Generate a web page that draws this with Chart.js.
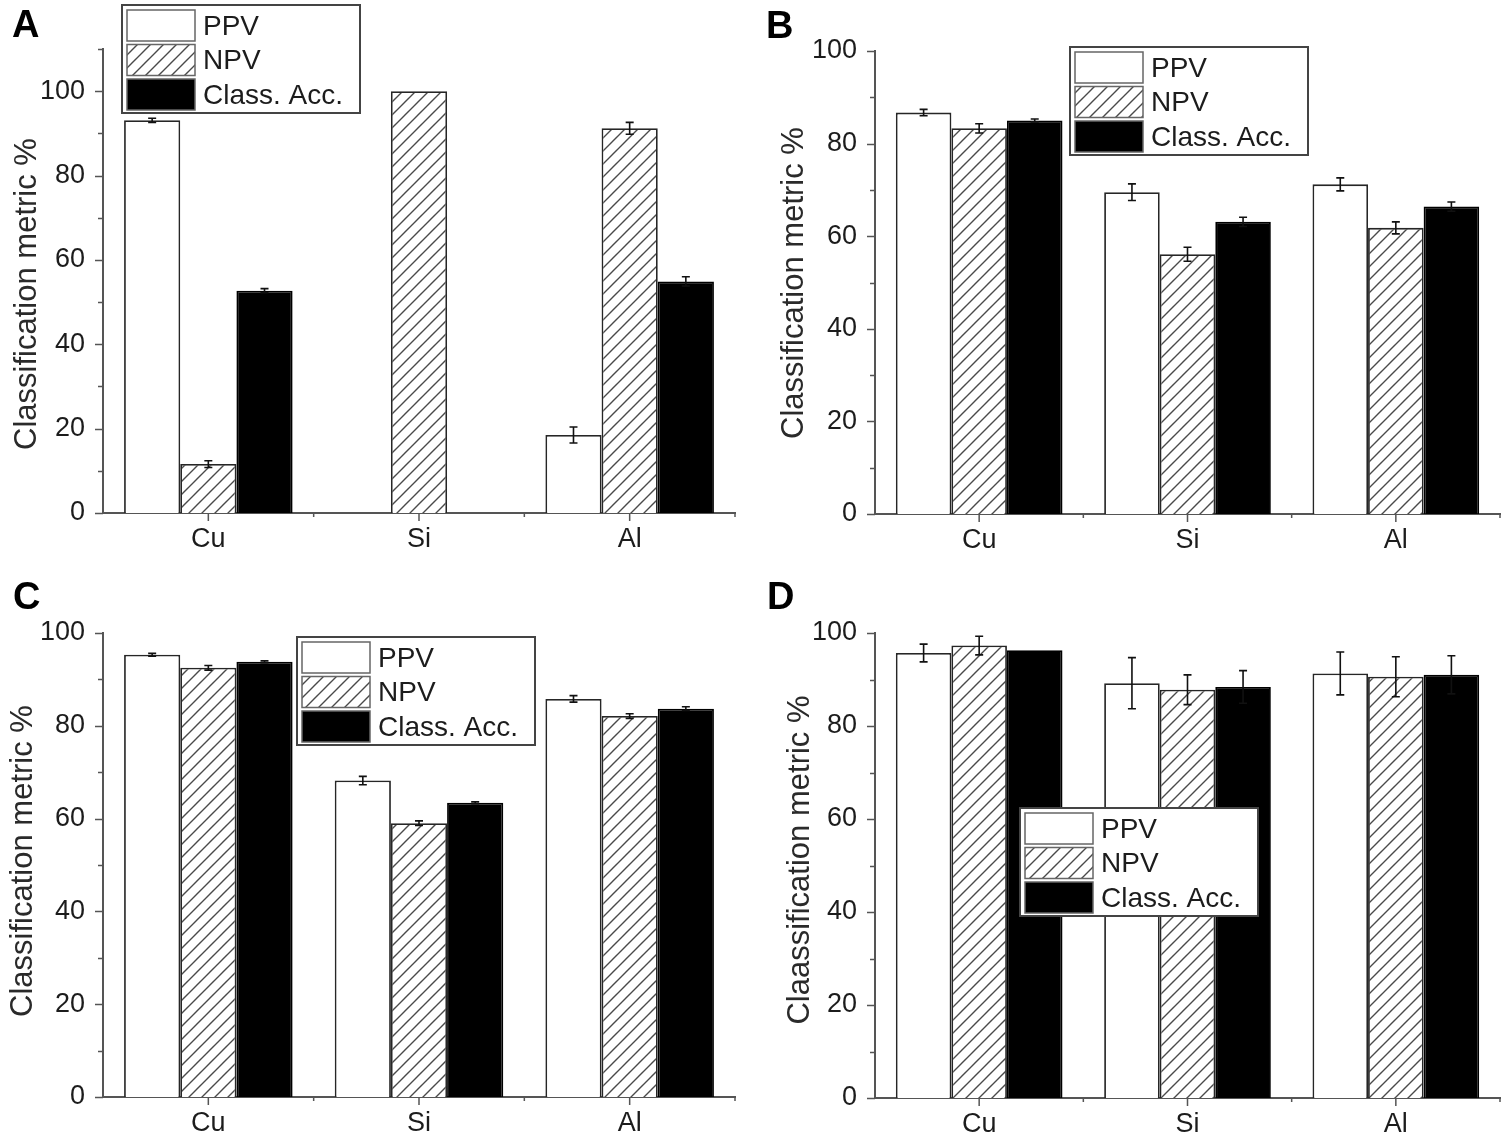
<!DOCTYPE html>
<html>
<head>
<meta charset="utf-8">
<script src="https://cdn.jsdelivr.net/npm/chart.js@4.4.1/dist/chart.umd.min.js"></script>
<style>
  body { margin: 0; background: #fff; }
  #wrap { position: relative; width: 1505px; height: 1142px; overflow: hidden; }
  canvas { position: absolute; }
  .tag { position: absolute; font: bold 38px "Liberation Sans", Arial, sans-serif; line-height: 38px; color: #000; }
</style>
</head>
<body>
<div id="wrap">
  <canvas id="chartA" width="752" height="571" style="left:0;top:0"></canvas>
  <canvas id="chartB" width="753" height="571" style="left:752px;top:0"></canvas>
  <canvas id="chartC" width="752" height="571" style="left:0;top:571px"></canvas>
  <canvas id="chartD" width="753" height="571" style="left:752px;top:571px"></canvas>
  <div class="tag" style="left:12px;top:5px">A</div>
  <div class="tag" style="left:766px;top:6px">B</div>
  <div class="tag" style="left:13px;top:577px">C</div>
  <div class="tag" style="left:767px;top:577px">D</div>
</div>
<script>
// categories and series
var categories = ["Cu", "Si", "Al"];
var seriesNames = ["PPV", "NPV", "Class. Acc."];
var yTickLabels = [0, 20, 40, 60, 80, 100];

// panel A
var ppvA = [93.1, null, 18.5];
var npvA = [11.6, 100, 91.2];
var accA = [52.7, null, 54.9];
var ppvErrA = [0.5, null, 1.9];
var npvErrA = [0.8, 0, 1.4];
var accErrA = [0.5, null, 1.1];

// panel B
var ppvB = [86.7, 69.5, 71.2];
var npvB = [83.3, 56.1, 61.8];
var accB = [85.0, 63.1, 66.4];
var ppvErrB = [0.7, 1.8, 1.4];
var npvErrB = [1.0, 1.5, 1.3];
var accErrB = [0.3, 1.0, 1.0];

// panel C
var ppvC = [95.3, 68.2, 85.8];
var npvC = [92.5, 59.0, 82.1];
var accC = [93.8, 63.4, 83.7];
var ppvErrC = [0.3, 0.9, 0.7];
var npvErrC = [0.5, 0.5, 0.5];
var accErrC = [0.2, 0.2, 0.4];

// panel D
var ppvD = [95.7, 89.2, 91.3];
var npvD = [97.3, 87.8, 90.6];
var accD = [96.3, 88.4, 91.0];
var ppvErrD = [1.9, 5.5, 4.6];
var npvErrD = [2.0, 3.2, 4.3];
var accErrD = [0, 3.5, 4.1];

var FONT = '"Liberation Sans", Arial, sans-serif';
var AXIS = "#555";
var INK = "#1c1c1c";

function makeHatch() {
  var s = 13;
  var c = document.createElement("canvas");
  c.width = s; c.height = s;
  var g = c.getContext("2d");
  g.fillStyle = "#fff";
  g.fillRect(0, 0, s, s);
  g.strokeStyle = "#4a4a4a";
  g.lineWidth = 1.4;
  g.beginPath();
  g.moveTo(0, s); g.lineTo(s, 0);
  g.moveTo(-4, 4); g.lineTo(4, -4);
  g.moveTo(s - 4, s + 4); g.lineTo(s + 4, s - 4);
  g.stroke();
  return document.getElementById("chartA").getContext("2d").createPattern(c, "repeat");
}
var hatch = makeHatch();

// tick marks, error bars, legend and y title
var extras = {
  id: "extras",
  afterDatasetsDraw: function(chart) {
    var ctx = chart.ctx, y = chart.scales.y;
    ctx.save();
    ctx.strokeStyle = "#111";
    ctx.lineWidth = 1.6;
    chart.data.datasets.forEach(function(ds, i) {
      var meta = chart.getDatasetMeta(i);
      meta.data.forEach(function(bar, j) {
        var v = ds.data[j], e = ds.errors[j];
        if (v == null || !e) return;
        var t = y.getPixelForValue(v + e), b = y.getPixelForValue(v - e);
        ctx.beginPath();
        ctx.moveTo(bar.x, t); ctx.lineTo(bar.x, b);
        ctx.moveTo(bar.x - 4, t); ctx.lineTo(bar.x + 4, t);
        ctx.moveTo(bar.x - 4, b); ctx.lineTo(bar.x + 4, b);
        ctx.stroke();
      });
    });
    ctx.restore();
  },
  afterDraw: function(chart) {
    var ctx = chart.ctx, o = chart.options.plugins.extras;
    var x = chart.scales.x, y = chart.scales.y, a = chart.chartArea;
    ctx.save();
    // axis ticks
    ctx.strokeStyle = AXIS;
    ctx.lineWidth = 1.5;
    ctx.beginPath();
    for (var v = 0; v <= y.max; v += 10) {
      var py = Math.round(y.getPixelForValue(v)) + 0.5;
      var len = (v % 20 === 0) ? 8 : 5;
      ctx.moveTo(a.left - len, py); ctx.lineTo(a.left, py);
    }
    var centers = categories.map(function(c, i) { return x.getPixelForValue(i); });
    centers.forEach(function(px, i) {
      ctx.moveTo(px, a.bottom); ctx.lineTo(px, a.bottom + 8);
      var nx = i < centers.length - 1 ? (px + centers[i + 1]) / 2 : a.right;
      ctx.moveTo(nx, a.bottom); ctx.lineTo(nx, a.bottom + 4);
    });
    ctx.stroke();

    // y title
    ctx.fillStyle = "#2a2a2a";
    ctx.font = "31px " + FONT;
    ctx.translate(o.titleX, o.titleY);
    ctx.rotate(-Math.PI / 2);
    ctx.textAlign = "center";
    ctx.textBaseline = "middle";
    ctx.fillText(o.title, 0, 0);
    ctx.setTransform(1, 0, 0, 1, 0, 0);

    // legend
    var bx = o.legendX, by = o.legendY, bw = 238, bh = 108;
    ctx.fillStyle = "#fff";
    ctx.fillRect(bx, by, bw, bh);
    ctx.strokeStyle = "#444";
    ctx.lineWidth = 2;
    ctx.strokeRect(bx, by, bw, bh);
    chart.data.datasets.forEach(function(ds, i) {
      var sy = by + 5 + i * 34.5;
      ctx.fillStyle = ds.backgroundColor;
      ctx.fillRect(bx + 5, sy, 68, 31);
      ctx.strokeStyle = "#666";
      ctx.lineWidth = 1.5;
      ctx.strokeRect(bx + 5, sy, 68, 31);
      ctx.fillStyle = INK;
      ctx.font = "28px " + FONT;
      ctx.textAlign = "left";
      ctx.textBaseline = "middle";
      ctx.fillText(ds.label, bx + 81, sy + 17);
    });
    ctx.restore();
  }
};

function panel(id, ppv, npv, acc, ppvErr, npvErr, accErr, cfg) {
  return new Chart(document.getElementById(id), {
    type: "bar",
    data: {
      labels: categories,
      datasets: [
        { label: seriesNames[0], data: ppv, errors: ppvErr, backgroundColor: "#fff", borderColor: "#262626", borderWidth: 1.8 },
        { label: seriesNames[1], data: npv, errors: npvErr, backgroundColor: hatch, borderColor: "#262626", borderWidth: 1.8 },
        { label: seriesNames[2], data: acc, errors: accErr, backgroundColor: "#000", borderColor: "#000", borderWidth: 1.8 }
      ]
    },
    options: {
      responsive: false,
      animation: false,
      devicePixelRatio: 1,
      layout: { padding: { left: 0, right: cfg.right, top: cfg.top, bottom: 0 } },
      datasets: { bar: { barPercentage: 1.0, categoryPercentage: 0.8 } },
      plugins: {
        legend: { display: false },
        tooltip: { enabled: false },
        extras: cfg
      },
      scales: {
        x: {
          grid: { display: false, drawTicks: true, tickLength: 8 },
          border: { display: true, color: AXIS, width: 2 },
          ticks: { color: INK, font: { family: FONT, size: 27 }, padding: 2, maxRotation: 0 },
          afterFit: function(s) { s.height = cfg.xh; }
        },
        y: {
          min: 0,
          max: cfg.max,
          grid: { display: false, drawTicks: true, tickLength: 8 },
          border: { display: true, color: AXIS, width: 2 },
          ticks: {
            stepSize: 10,
            color: INK,
            font: { family: FONT, size: 27 },
            padding: 10,
            callback: function(v) { return yTickLabels.indexOf(v) >= 0 ? v : ""; }
          },
          afterFit: function(s) { s.width = cfg.yw; }
        }
      }
    },
    plugins: [extras]
  });
}

panel("chartA", ppvA, npvA, accA, ppvErrA, npvErrA, accErrA,
  { max: 110, yw: 103, xh: 58, top: 49, right: 17, title: "Classification metric %", titleX: 27, titleY: 294, legendX: 122, legendY: 5 });
panel("chartB", ppvB, npvB, accB, ppvErrB, npvErrB, accErrB,
  { max: 100, yw: 123, xh: 57, top: 51, right: 5, title: "Classification metric %", titleX: 42, titleY: 283, legendX: 318, legendY: 47 });
panel("chartC", ppvC, npvC, accC, ppvErrC, npvErrC, accErrC,
  { max: 100, yw: 103, xh: 45, top: 62, right: 17, title: "Classification metric %", titleX: 23, titleY: 290, legendX: 297, legendY: 66 });
panel("chartD", ppvD, npvD, accD, ppvErrD, npvErrD, accErrD,
  { max: 100, yw: 123, xh: 44, top: 62, right: 5, title: "Claassification metric %", titleX: 48, titleY: 289, legendX: 268, legendY: 237 });
</script>
</body>
</html>
